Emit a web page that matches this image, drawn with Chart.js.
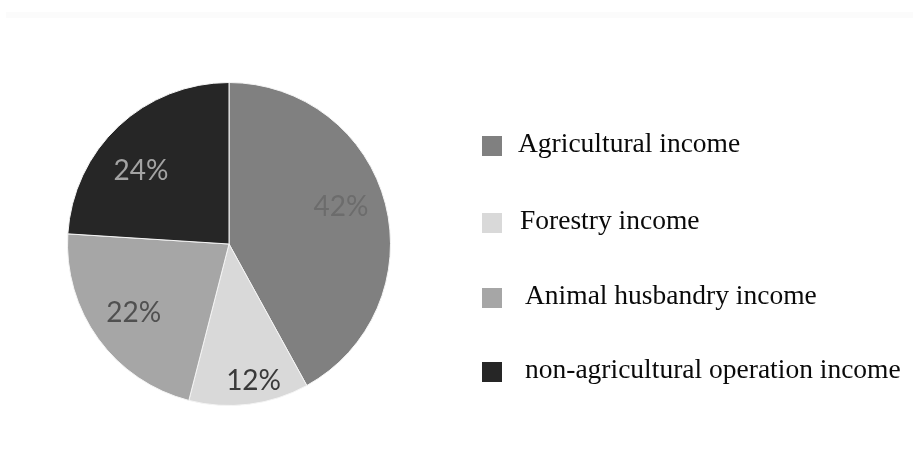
<!DOCTYPE html>
<html>
<head>
<meta charset="utf-8">
<title>Income structure</title>
<script src="https://cdn.jsdelivr.net/npm/chart.js@4/dist/chart.umd.min.js"></script>
<style>
    html, body { margin: 0; padding: 0; background: #fff; }
    #wrap { position: relative; width: 913px; height: 468px; }
    #topBand { position: absolute; left: 6px; right: 0; top: 12px; height: 6px; background: #fbfbfb; }
    canvas { position: absolute; left: 0; top: 0; }
</style>
</head>
<body>
<div id="wrap">
    <div id="topBand"></div>
    <canvas id="incomeChart" width="913" height="468"></canvas>
</div>
<script>
// Income sources and their shares (%)
const categories = ['Agricultural income', 'Forestry income', 'Animal husbandry income', 'non-agricultural operation income'];
const shares = [42, 12, 22, 24];

// Slice fills, label colours and label placement (fraction of radius, angle nudge in degrees)
const sliceColors = ['#808080', '#d9d9d9', '#a6a6a6', '#262626'];
const labelColors = ['#6c6c6c', '#3a3a3a', '#505050', '#a3a3a3'];
const labelRadius = [0.73, 0.86, 0.73, 0.71];
const labelNudge = [-4, -3, 0, -7];

// Percentage text inside each slice
const sliceLabels = {
    id: 'sliceLabels',
    afterDatasetsDraw(chart) {
        const ctx = chart.ctx;
        const meta = chart.getDatasetMeta(0);
        ctx.save();
        ctx.font = '28px Lato, "Open Sans", sans-serif';
        ctx.textAlign = 'center';
        ctx.textBaseline = 'middle';
        meta.data.forEach((arc, i) => {
            const p = arc.getProps(['x', 'y', 'startAngle', 'endAngle', 'outerRadius'], true);
            const mid = (p.startAngle + p.endAngle) / 2 + labelNudge[i] * Math.PI / 180;
            const r = p.outerRadius * labelRadius[i];
            ctx.fillStyle = labelColors[i];
            ctx.fillText(shares[i] + '%', p.x + Math.cos(mid) * r, p.y + Math.sin(mid) * r);
        });
        ctx.restore();
    }
};

// Legend on the right: square swatch followed by serif text
const sideLegend = {
    id: 'sideLegend',
    afterDraw(chart) {
        const ctx = chart.ctx;
        const rows = [146, 223, 298, 372];
        const textX = [518, 520, 525, 525];
        ctx.save();
        ctx.font = '27.5px "Liberation Serif", "Times New Roman", serif';
        ctx.textBaseline = 'middle';
        chart.data.labels.forEach((label, i) => {
            ctx.fillStyle = chart.data.datasets[0].backgroundColor[i];
            ctx.fillRect(482, rows[i] - 10, 20, 20);
            ctx.fillStyle = '#0a0a0a';
            ctx.fillText(label, textX[i], rows[i] - 1);
        });
        ctx.restore();
    }
};

function initChart() {
    const ctx = document.getElementById('incomeChart').getContext('2d');

    new Chart(ctx, {
        type: 'pie',
        data: {
            labels: categories,
            datasets: [{
                data: shares,
                backgroundColor: sliceColors,
                borderColor: '#f4f4f4',
                borderWidth: 1
            }]
        },
        options: {
            responsive: false,
            animation: false,
            layout: {
                padding: { left: 66, right: 521, top: 82, bottom: 62 }
            },
            plugins: {
                legend: { display: false },
                tooltip: { enabled: false }
            }
        },
        plugins: [sliceLabels, sideLegend]
    });
}

document.addEventListener('DOMContentLoaded', initChart);
</script>
</body>
</html>
